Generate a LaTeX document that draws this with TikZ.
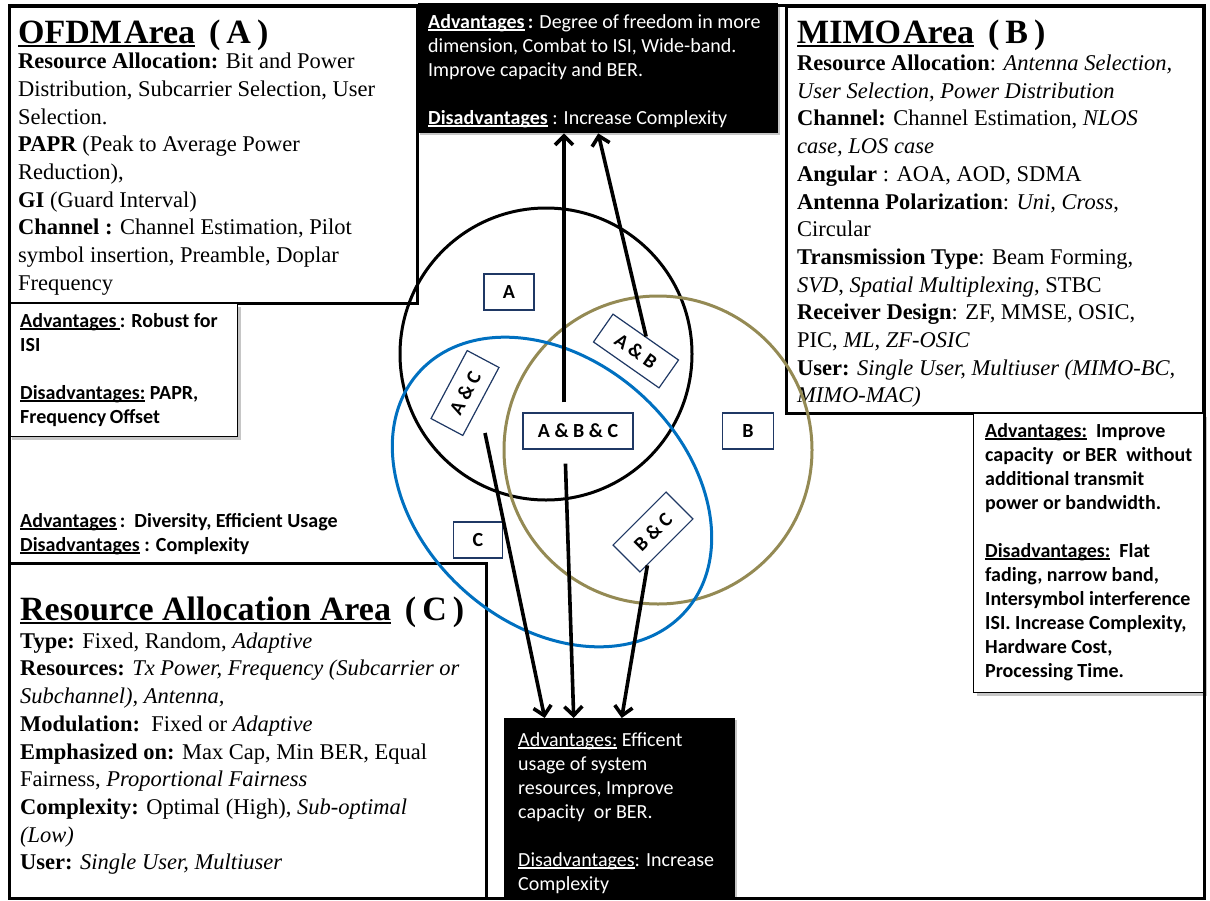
\documentclass[tikz,border=0pt]{standalone}
\usepackage{fontspec}
\setmainfont{Liberation Serif}
\newfontfamily\calfont{Carlito}
\usetikzlibrary{arrows.meta,shadows,shapes.geometric,calc}
\definecolor{olivec}{RGB}{148,138,84}
\definecolor{bluec}{RGB}{0,112,192}
\definecolor{navyc}{RGB}{31,56,100}
% underline drawn as a rule, scaled with the current font
\newcommand\undl[1]{\leavevmode\setbox0\hbox{#1}\rlap{\rule[-0.13em]{\wd0}{0.06em}}\box0\relax}
\tikzset{
  areabox/.style={draw, line width=2.8pt, fill=white, anchor=north west, inner sep=0pt},
  advbox/.style={draw, line width=1.4pt, fill=white, anchor=north west, inner sep=0pt,
    drop shadow={shadow xshift=3pt, shadow yshift=-3pt, opacity=.45}},
  darkbox/.style={fill=black, anchor=north west, inner sep=0pt,
    drop shadow={shadow xshift=2pt, shadow yshift=-2pt, opacity=.45}},
  sertitle/.style={anchor=base west, inner sep=0pt, font=\fontsize{34}{38}\selectfont\bfseries},
  sertext/.style={anchor=north west, inner sep=0pt, align=left, font=\fontsize{22.5}{27.7}\selectfont},
  caltext/.style={anchor=north west, inner sep=0pt, align=left, font=\calfont\fontsize{20}{24}\selectfont},
  calbold/.style={caltext, font=\calfont\bfseries\fontsize{20}{24}\selectfont},
  lbl/.style={draw=navyc, line width=1.2pt, fill=white, inner sep=0pt, minimum height=36pt,
    font=\calfont\bfseries\fontsize{20}{22}\selectfont},
  venn/.style={line width=3pt},
  conn/.style={line width=3.6pt, -{Straight Barb[length=9pt,width=18pt]}},
}
\begin{document}
\begin{tikzpicture}[x=1pt,y=-1pt]
\useasboundingbox (0,0) rectangle (1210,900);

% ---------- area boxes ----------
\node[areabox, minimum width=408pt, minimum height=297pt] (ofdm) at (8,5) {};
\node[areabox, minimum width=417pt, minimum height=407pt] (mimo) at (785,5) {};
\node[areabox, minimum width=477pt, minimum height=335pt] (rabox) at (8,562) {};
\node[darkbox, minimum width=360pt, minimum height=130pt] (topadv) at (418,3) {};
\node[darkbox, minimum width=231pt, minimum height=179pt] (botadv) at (504,718) {};
\node[advbox, minimum width=229pt, minimum height=133pt] (leftadv) at (8,303) {};
\node[advbox, minimum width=230pt, minimum height=279pt] (rightadv) at (973,413) {};

% ---------- OFDM text ----------
\node[sertitle] (ofdmtitle) at (18,43) {\undl{OFDM\hspace{2pt}Area}\hspace{14pt}(\hspace{6pt}A\hspace{6pt})};
\node[sertext] (ofdmtext) at (18,49.1) {\strut\textbf{Resource Allocation:} Bit and Power\\
Distribution, Subcarrier Selection, User\\
Selection.\\
\textbf{PAPR} (Peak to Average Power\\
Reduction),\\
\textbf{GI} (Guard Interval)\\
\textbf{Channel :} Channel Estimation, Pilot\\
symbol insertion, Preamble, Doplar\\
Frequency};

% ---------- MIMO text ----------
\node[sertitle] (mimotitle) at (797,43) {\undl{MIMO\hspace{2pt}Area}\hspace{14pt}(\hspace{6pt}B\hspace{6pt})};
\node[sertext] (mimotext) at (797,51) {\strut\textbf{Resource Allocation}: \textit{Antenna Selection,}\\
\textit{User Selection, Power Distribution}\\
\textbf{Channel:} Channel Estimation, \textit{NLOS}\\
\textit{case, LOS case}\\
\textbf{Angular} : AOA, AOD, SDMA\\
\textbf{Antenna Polarization}: \textit{Uni, Cross}, \\
Circular\\
\textbf{Transmission Type}: Beam Forming,\\
\textit{SVD}, \textit{Spatial Multiplexing}, STBC\\
\textbf{Receiver Design}: ZF, MMSE, OSIC,\\
PIC, \textit{ML, ZF-OSIC}\\
\textbf{User:} \textit{Single User, Multiuser (MIMO-BC,}\\
\textit{MIMO-MAC)}};

% ---------- resource allocation text ----------
\node[sertitle] (ratitle) at (20,620) {\undl{Resource Allocation Area}\hspace{14pt}(\hspace{6pt}C\hspace{6pt})};
\node[sertext] (ratext) at (20,628.6) {\strut\textbf{Type:} Fixed, Random, \textit{Adaptive}\\
\textbf{Resources:} \textit{Tx Power, Frequency (Subcarrier or}\\
\textit{Subchannel), Antenna,}\\
\textbf{Modulation:}\ \ Fixed or \textit{Adaptive}\\
\textbf{Emphasized on:} Max Cap, Min BER, Equal\\
Fairness, \textit{Proportional Fairness}\\
\textbf{Complexity:} Optimal (High), \textit{Sub-optimal}\\
\textit{(Low)}\\
\textbf{User:} \textit{Single User, Multiuser}};

% ---------- advantages / disadvantages ----------
\node[caltext, text=white] (toptext) at (428,11) {\strut\undl{\textbf{Advantages}}\textbf{\,:} Degree of freedom in more\\
dimension, Combat to ISI, Wide-band.\\
Improve capacity and BER.\\
\mbox{}\\
\undl{\textbf{Disadvantages}} : Increase Complexity};

\node[calbold] (lefttext) at (20,310) {\strut\undl{Advantages\,}: Robust\ for\\
ISI\\
\mbox{}\\
\undl{Disadvantages:} PAPR,\\
Frequency\,Offset};

\node[calbold] (divtext) at (20,510) {\strut\undl{Advantages}\,:\ \ Diversity, Efficient Usage\\
\undl{Disadvantages} : Complexity};

\node[caltext, text=white] (bottext) at (518,729) {\strut\undl{Advantages:} Efficent\\
usage of system\\
resources, Improve\\
capacity\ \ or BER.\\
\mbox{}\\
\undl{Disadvantages}: Increase\\
Complexity};

\node[calbold] (righttext) at (985,420) {\strut\undl{Advantages:}\ \ Improve\\
capacity\ \ or BER\ \ without\\
additional transmit\\
power or bandwidth.\\
\mbox{}\\
\undl{Disadvantages:}\ \ Flat\\
fading, narrow band,\\
Intersymbol interference\\
ISI. Increase Complexity,\\
Hardware Cost,\\
Processing Time.};

% ---------- Venn diagram ----------
\node[venn, draw=black, circle, minimum size=292pt, inner sep=0pt] (circA) at (546,354) {};
\node[venn, draw=olivec, circle, minimum size=308pt, inner sep=0pt] (circB) at (658,450) {};
\node[venn, draw=bluec, ellipse, minimum width=358pt, minimum height=264pt, inner sep=0pt, rotate=-42] (circC) at (552,492) {};

\node[lbl, minimum width=50pt] (la) at (509,292) {A};
\node[lbl, minimum width=110pt] (abc) at (578,431) {A\ \&\ B\ \&\ C};
\node[lbl, minimum width=51pt] (lb) at (748,431) {B};
\node[lbl, minimum width=49pt] (lc) at (478,540) {C};
\node[lbl, minimum width=80pt, minimum height=34pt, rotate=-35] (ab) at (636,351) {A\ \&\ B};
\node[lbl, minimum width=77pt, rotate=62] (ac) at (465,393) {A\ \&\ C};
\node[lbl, minimum width=75pt, minimum height=38pt, rotate=45] (bc) at (653,532) {B\ \&\ C};

% ---------- connectors ----------
\draw[conn, shorten <=10pt] ([xshift=-14pt]abc.north) -- ([xshift=-14pt]abc.north |- topadv.south);
\draw[conn] (ab.north) -- (topadv.south);
\coordinate (acfoot) at ($(ac)+(20,40)$);
\draw[conn] (acfoot) -- ([xshift=-75pt]botadv.north);
\draw[conn, shorten <=14pt] ([xshift=-13pt]abc.south) -- ([xshift=-46pt]botadv.north);
\draw[conn] (bc) -- ([xshift=2pt]botadv.north);

% ---------- outer frame ----------
\node[draw, line width=2.8pt, anchor=north west, inner sep=0pt, minimum width=1195pt, minimum height=893pt] (frame) at (8,4) {};
\end{tikzpicture}
\end{document}
